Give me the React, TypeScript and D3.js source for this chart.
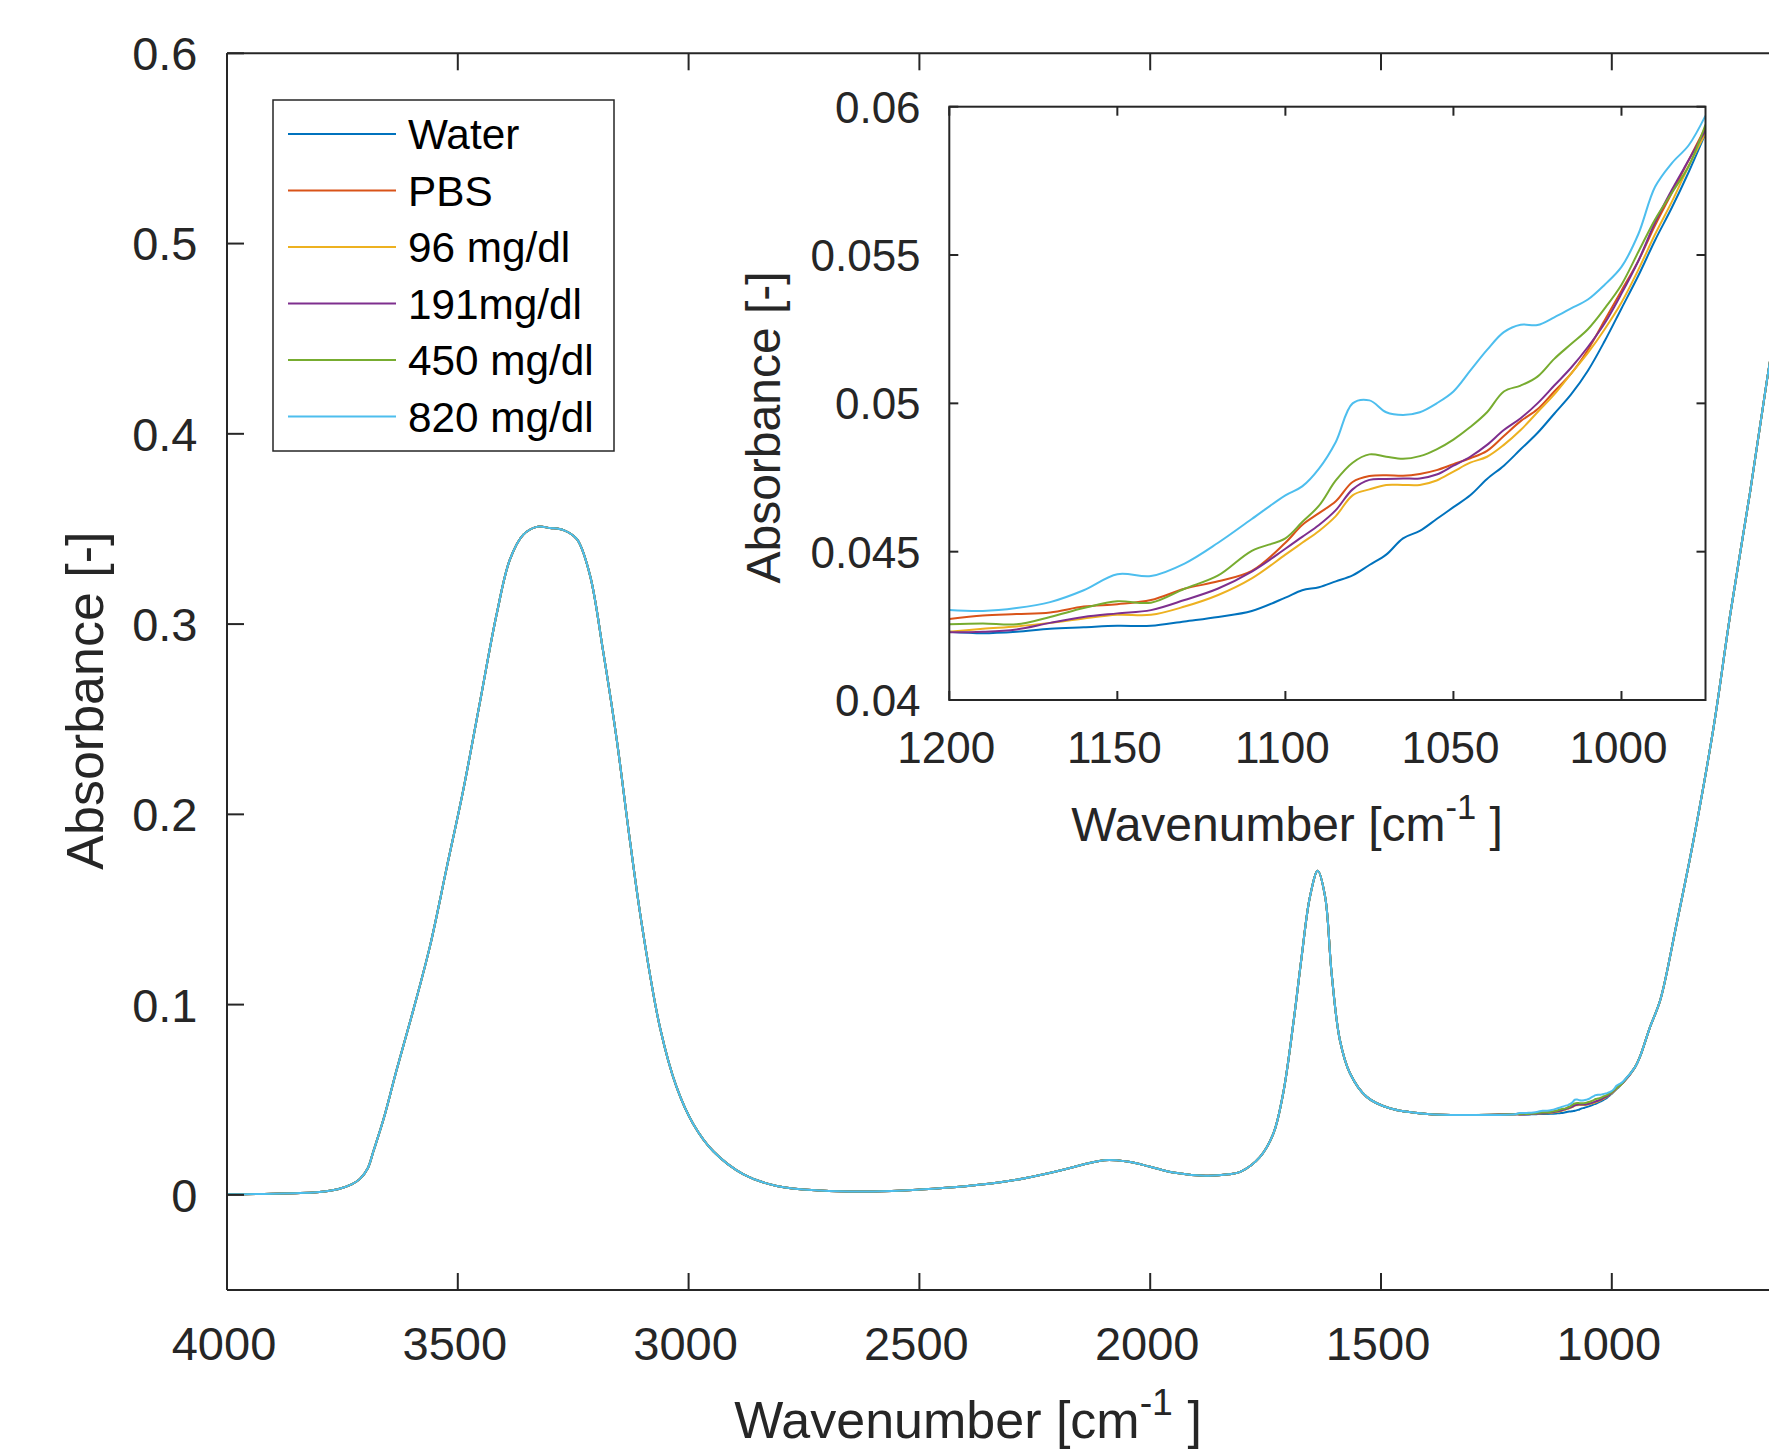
import React from "react";
import * as d3 from "d3";

// ---------- DATA ----------
const seriesNames = ["Water", "PBS", "96 mg/dl", "191mg/dl", "450 mg/dl", "820 mg/dl"];
const seriesColors = ["#0072BD", "#D95319", "#EDB120", "#7E2F8E", "#77AC30", "#4DBEEE"];

// Shared full-range spectrum (outside the 1200–975 cm-1 zoom window), [wavenumber, absorbance]
const baseSpectrumHigh: [number, number][] = [
  [4000, 0.0003], [3900, 0.0006], [3800, 0.0015], [3760, 0.003], [3730, 0.0055],
  [3712, 0.0084], [3695, 0.014], [3683, 0.0228], [3661, 0.0397], [3632, 0.0662],
  [3596, 0.0975], [3560, 0.131], [3524, 0.172], [3488, 0.213], [3452, 0.259],
  [3416, 0.305], [3387, 0.334], [3358, 0.347], [3329, 0.3511], [3300, 0.3505],
  [3271, 0.3494], [3242, 0.3446], [3214, 0.326], [3185, 0.2855], [3156, 0.2398],
  [3127, 0.186], [3100, 0.14], [3062, 0.088], [3026, 0.0566], [2990, 0.0373],
  [2946, 0.0228], [2881, 0.0108], [2809, 0.0047], [2715, 0.0023], [2600, 0.0018],
  [2500, 0.0028], [2400, 0.0045], [2300, 0.0075], [2200, 0.0125], [2100, 0.0182],
  [2050, 0.0175], [2000, 0.0148], [1950, 0.0118], [1880, 0.0101], [1830, 0.0108],
  [1805, 0.0121], [1762, 0.02], [1733, 0.0323], [1712, 0.0533], [1690, 0.09],
  [1672, 0.125], [1654, 0.1566], [1637, 0.1703], [1621, 0.1566], [1607, 0.1164],
  [1589, 0.0813], [1567, 0.0638], [1531, 0.0515], [1481, 0.0455], [1400, 0.0425],
  [1300, 0.042], [1210, 0.0424],
];
const baseSpectrumLow: [number, number][] = [
  [950, 0.067], [939, 0.0726], [917, 0.0883], [895, 0.1024], [860, 0.142],
  [823, 0.1864], [780, 0.245], [743, 0.3057], [700, 0.37], [664, 0.428],
  [630, 0.48], [600, 0.53],
];

// Zoom window wavenumbers
const insetWavenumbers = [
  1200, 1190, 1180, 1170, 1160, 1150, 1140, 1130, 1120, 1110,
  1100, 1095, 1090, 1085, 1080, 1075, 1070, 1065, 1060, 1055,
  1050, 1045, 1040, 1035, 1030, 1025, 1020, 1015, 1010, 1005,
  1000, 995, 990, 985, 980, 975,
];
const waterInset = [
  0.0423, 0.04225, 0.0423, 0.0424, 0.04245, 0.0425, 0.0425, 0.04265, 0.0428, 0.043,
  0.04345, 0.0437, 0.0438, 0.044, 0.0442, 0.04455, 0.0449, 0.04545, 0.0457, 0.0461,
  0.0465, 0.0469, 0.04745, 0.0479, 0.04845, 0.049, 0.04965, 0.0503, 0.0511, 0.0521,
  0.0532, 0.0543, 0.0555, 0.0566, 0.0578, 0.0591,
];
const pbsInset = [
  0.04273, 0.04285, 0.0429, 0.04295, 0.04315, 0.04323, 0.04337, 0.04375, 0.044, 0.04435,
  0.0453, 0.0459, 0.0463, 0.0467, 0.04735, 0.04755, 0.04758, 0.04756, 0.04762, 0.04775,
  0.04795, 0.04815, 0.0484, 0.0489, 0.0494, 0.0498, 0.0504, 0.051, 0.0518, 0.0528,
  0.0538, 0.0548, 0.056, 0.0571, 0.0582, 0.0593,
];
const g96Inset = [
  0.0423, 0.0424, 0.04248, 0.0426, 0.04275, 0.04287, 0.04287, 0.04315, 0.04354, 0.0441,
  0.0449, 0.0453, 0.0457, 0.0462, 0.0469, 0.0471, 0.04725, 0.04725, 0.04725, 0.0474,
  0.0477, 0.048, 0.0482, 0.0486, 0.0491, 0.0497, 0.0503, 0.051, 0.0517, 0.0525,
  0.0534, 0.0545, 0.0557, 0.0568, 0.058, 0.0591,
];
const g191Inset = [
  0.04228, 0.0423, 0.04238, 0.0426, 0.0428, 0.04292, 0.04303, 0.04337, 0.04376, 0.04433,
  0.0451, 0.0455, 0.0459, 0.0464, 0.0471, 0.04742, 0.04745, 0.04747, 0.04747, 0.0476,
  0.0479, 0.0482, 0.0486, 0.0491, 0.0495, 0.05, 0.0506, 0.0512, 0.0519, 0.0527,
  0.0537, 0.0548, 0.0561, 0.0572, 0.0582, 0.0592,
];
const g450Inset = [
  0.04255, 0.04258, 0.04255, 0.0428, 0.0431, 0.04333, 0.04328, 0.04375, 0.0442, 0.04503,
  0.04545, 0.046, 0.04655, 0.0474, 0.048, 0.04828, 0.0482, 0.04813, 0.04822, 0.04845,
  0.04878, 0.0492, 0.0497, 0.0504, 0.0506, 0.0509, 0.0515, 0.052, 0.0525, 0.0532,
  0.054, 0.0551, 0.0562, 0.0571, 0.058, 0.0594,
];
const g820Inset = [
  0.04303, 0.043, 0.0431, 0.0433, 0.0437, 0.04424, 0.04418, 0.0446, 0.0453, 0.0461,
  0.0469, 0.0472, 0.0478, 0.0487, 0.05, 0.0501, 0.0497, 0.04961, 0.0497, 0.05,
  0.0504, 0.0511, 0.0518, 0.0524, 0.05265, 0.05264, 0.0529, 0.0532, 0.0535, 0.054,
  0.0546, 0.0557, 0.0573, 0.0581, 0.0587, 0.0597,
];
const insetSeries = [waterInset, pbsInset, g96Inset, g191Inset, g450Inset, g820Inset];

const mainXTicks = [4000, 3500, 3000, 2500, 2000, 1500, 1000];
const mainYTicks = [0, 0.1, 0.2, 0.3, 0.4, 0.5, 0.6];
const insetXTicks = [1200, 1150, 1100, 1050, 1000];
const insetYTicks = [0.04, 0.045, 0.05, 0.055, 0.06];

// ---------- LAYOUT ----------
const W = 1769;
const H = 1452;
const FONT = "'Liberation Sans', Arial, Helvetica, sans-serif";
const AX = "#262626";

const main = { left: 227, top: 53.3, bottom: 1290, pxPerUnit: 0.4616 };
const inset = { left: 949.3, right: 1705.5, top: 106.7, bottom: 700 };

export default function App() {
  const xMain = d3.scaleLinear().domain([4000, 600]).range([main.left, main.left + 3400 * main.pxPerUnit]);
  const yMain = d3.scaleLinear().domain([-0.05, 0.6]).range([main.bottom, main.top]);
  const xIn = d3.scaleLinear().domain([1200, 975]).range([inset.left, inset.right]);
  const yIn = d3.scaleLinear().domain([0.04, 0.06]).range([inset.bottom, inset.top]);

  const mainLine = d3
    .line<[number, number]>()
    .x((d) => xMain(d[0]))
    .y((d) => yMain(d[1]))
    .curve(d3.curveCatmullRom.alpha(0.5));
  const inLine = d3
    .line<[number, number]>()
    .x((d) => xIn(d[0]))
    .y((d) => yIn(d[1]))
    .curve(d3.curveCatmullRom.alpha(0.5));

  const insetPts = insetSeries.map((vals) => insetWavenumbers.map((w, i) => [w, vals[i]] as [number, number]));
  const mainPts = insetPts.map((pts) => [...baseSpectrumHigh, ...pts, ...baseSpectrumLow]);

  const fsTick = 47;
  const fsLabel = 52;
  const fsInTick = 44;
  const fsInLabel = 48;
  const fsLegend = 42.3;
  const tickLen = 17;
  const inTickLen = 9;
  const mainRightEdge = W + 10;

  const legend = { x: 273, y: 100, w: 341, h: 351, rows: [134, 190.5, 247, 303.5, 360, 416.5] };

  return (
    <svg
      width={W}
      height={H}
      viewBox={`0 0 ${W} ${H}`}
      style={{ position: "absolute", left: 0, top: 0, display: "block", background: "#fff" }}
      fontFamily={FONT}
    >
      <defs>
        <clipPath id="mainClip">
          <rect x={main.left} y={main.top} width={W - main.left + 10} height={main.bottom - main.top} />
        </clipPath>
        <clipPath id="inClip">
          <rect x={inset.left} y={inset.top} width={inset.right - inset.left} height={inset.bottom - inset.top} />
        </clipPath>
      </defs>
      <rect x={0} y={0} width={W} height={H} fill="#fff" />

      {/* Main series */}
      <g clipPath="url(#mainClip)">
        {mainPts.map((pts, i) => (
          <path key={i} d={mainLine(pts) || ""} fill="none" stroke={seriesColors[i]} strokeWidth={2} strokeLinejoin="round" />
        ))}
      </g>

      {/* Main axes box */}
      <g stroke={AX} strokeWidth={2} fill="none">
        <line x1={main.left} y1={main.top} x2={mainRightEdge} y2={main.top} />
        <line x1={main.left} y1={main.bottom} x2={mainRightEdge} y2={main.bottom} />
        <line x1={main.left} y1={main.top} x2={main.left} y2={main.bottom} />
        {mainXTicks.map((t) => (
          <g key={t}>
            <line x1={xMain(t)} x2={xMain(t)} y1={main.bottom} y2={main.bottom - tickLen} />
            <line x1={xMain(t)} x2={xMain(t)} y1={main.top} y2={main.top + tickLen} />
          </g>
        ))}
        {mainYTicks.map((t) => (
          <line key={t} x1={main.left} x2={main.left + tickLen} y1={yMain(t)} y2={yMain(t)} />
        ))}
      </g>
      <g fill={AX} fontSize={fsTick}>
        {mainXTicks.map((t) => (
          <text key={t} x={xMain(t) - 3} y={1359.5} textAnchor="middle">
            {t}
          </text>
        ))}
        {mainYTicks.map((t) => (
          <text key={t} x={197.5} y={yMain(t) + fsTick * 0.36} textAnchor="end">
            {t}
          </text>
        ))}
      </g>
      <text x={968} y={1438} textAnchor="middle" fontSize={fsLabel} fill={AX}>
        <tspan>Wavenumber [cm</tspan>
        <tspan dy={-fsLabel * 0.45} fontSize={fsLabel * 0.72}>-1</tspan>
        <tspan dy={fsLabel * 0.45}> ]</tspan>
      </text>
      <text
        transform={`translate(103,700.6) rotate(-90)`}
        textAnchor="middle"
        fontSize={fsLabel}
        fill={AX}
      >
        Absorbance [-]
      </text>

      {/* Legend */}
      <rect x={legend.x} y={legend.y} width={legend.w} height={legend.h} fill="#fff" stroke={AX} strokeWidth={1.5} />
      {seriesNames.map((name, i) => (
        <g key={name}>
          <line x1={288} x2={396} y1={legend.rows[i]} y2={legend.rows[i]} stroke={seriesColors[i]} strokeWidth={2} />
          <text x={408} y={legend.rows[i] + fsLegend * 0.36} fontSize={fsLegend} fill="#000">
            {name}
          </text>
        </g>
      ))}

      {/* Inset */}
      <rect x={inset.left} y={inset.top} width={inset.right - inset.left} height={inset.bottom - inset.top} fill="#fff" />
      <g clipPath="url(#inClip)">
        {insetPts.map((pts, i) => (
          <path key={i} d={inLine(pts) || ""} fill="none" stroke={seriesColors[i]} strokeWidth={2} strokeLinejoin="round" />
        ))}
      </g>
      <g stroke={AX} strokeWidth={2} fill="none">
        <rect x={inset.left} y={inset.top} width={inset.right - inset.left} height={inset.bottom - inset.top} />
        {insetXTicks.map((t) => (
          <g key={t}>
            <line x1={xIn(t)} x2={xIn(t)} y1={inset.bottom} y2={inset.bottom - inTickLen} />
            <line x1={xIn(t)} x2={xIn(t)} y1={inset.top} y2={inset.top + inTickLen} />
          </g>
        ))}
        {insetYTicks.map((t) => (
          <g key={t}>
            <line x1={inset.left} x2={inset.left + inTickLen} y1={yIn(t)} y2={yIn(t)} />
            <line x1={inset.right} x2={inset.right - inTickLen} y1={yIn(t)} y2={yIn(t)} />
          </g>
        ))}
      </g>
      <g fill={AX} fontSize={fsInTick}>
        {insetXTicks.map((t) => (
          <text key={t} x={xIn(t) - 3} y={763} textAnchor="middle">
            {t}
          </text>
        ))}
        {insetYTicks.map((t) => (
          <text key={t} x={920.6} y={yIn(t) + fsInTick * 0.36} textAnchor="end">
            {String(+t.toFixed(3))}
          </text>
        ))}
      </g>
      <text x={1287} y={840.5} textAnchor="middle" fontSize={fsInLabel} fill={AX}>
        <tspan>Wavenumber [cm</tspan>
        <tspan dy={-fsInLabel * 0.45} fontSize={fsInLabel * 0.72}>-1</tspan>
        <tspan dy={fsInLabel * 0.45}> ]</tspan>
      </text>
      <text
        transform={`translate(780,427.5) rotate(-90)`}
        textAnchor="middle"
        fontSize={fsInLabel}
        fill={AX}
      >
        Absorbance [-]
      </text>
    </svg>
  );
}
